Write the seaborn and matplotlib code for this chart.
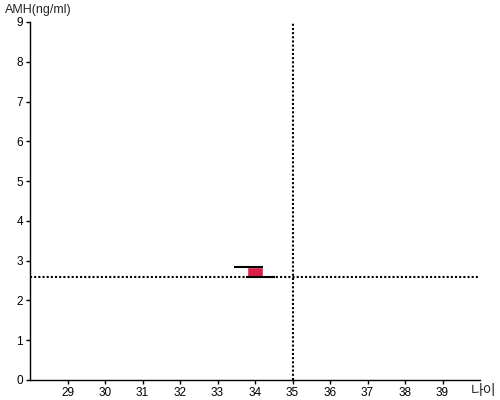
import matplotlib
matplotlib.use("Agg")
import matplotlib.pyplot as plt
import seaborn as sns
import pandas as pd

# data
ages = [34]
amh_low = [2.6]
amh_high = [2.85]
ref_age = 35
ref_amh = 2.6
x_ticks = [29, 30, 31, 32, 33, 34, 35, 36, 37, 38, 39]
y_ticks = [0, 1, 2, 3, 4, 5, 6, 7, 8, 9]

sns.set_style("ticks")
plt.rcParams['font.family'] = ['Liberation Sans', 'Noto Sans CJK KR', 'DejaVu Sans']

fig = plt.figure(figsize=(5, 4), dpi=100)
ax = fig.add_axes([0.06, 0.05, 0.90, 0.895])

df = pd.DataFrame({"age": ages, "low": amh_low, "high": amh_high})

# reference dotted lines
sns.lineplot(x=[28, 40], y=[ref_amh, ref_amh], ax=ax, color="black",
             linewidth=1.5, linestyle=(0, (1, 1)), zorder=1,
             estimator=None, sort=False)
sns.lineplot(x=[ref_age, ref_age], y=[0, 9], ax=ax, color="black",
             linewidth=1.5, linestyle=(0, (1, 1)), zorder=1,
             estimator=None, sort=False)

# range box
ax.bar(df["age"], df["high"] - df["low"], bottom=df["low"], width=0.45,
       color="#DC1F45", zorder=2)
ax.hlines(df["high"], df["age"] - 0.55, df["age"] + 0.2, color="black", linewidth=1.5, zorder=3)
ax.hlines(df["low"], df["age"] - 0.25, df["age"] + 0.52, color="black", linewidth=1.5, zorder=3)

ax.set_xlim(28, 40)
ax.set_ylim(0, 9)
ax.set_xticks(x_ticks)
ax.set_yticks(y_ticks)
ax.tick_params(axis='both', labelsize=8.5, length=3, width=1, colors="black", pad=2)
for s in ["top", "right"]:
    ax.spines[s].set_visible(False)
for s in ["left", "bottom"]:
    ax.spines[s].set_linewidth(1)
    ax.spines[s].set_color("black")
ax.set_xlabel("")
ax.set_ylabel("")

fig.text(0.01, 0.975, "AMH(ng/ml)", fontsize=9, ha="left", va="center")
fig.text(0.992, 0.022, "나이", fontsize=10, ha="right", va="center",
         family=['Noto Sans CJK KR', 'DejaVu Sans'])

fig.savefig("out.png", dpi=100)
